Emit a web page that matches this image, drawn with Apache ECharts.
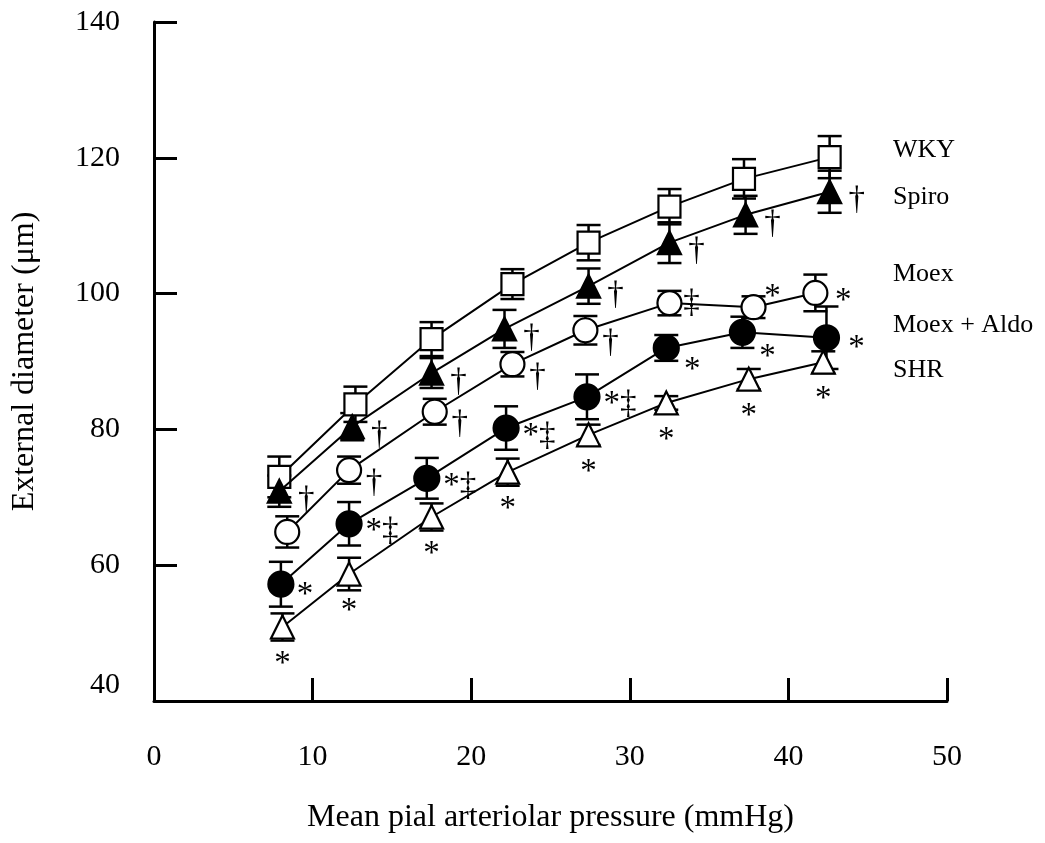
<!DOCTYPE html>
<html><head><meta charset="utf-8">
<script src="https://cdn.jsdelivr.net/npm/echarts@6/dist/echarts.min.js"></script>
<style>html,body{margin:0;padding:0;background:#fff}#c{width:1045px;height:843px}</style>
</head><body><div id="c"></div>
<script>
// ---- data ----
const xTicks = [0, 10, 20, 30, 40, 50];
const yTicks = [40, 60, 80, 100, 120, 140];
const seriesNames = ['WKY', 'Spiro', 'Moex', 'Moex + Aldo', 'SHR'];

const wkyX   = [7.9, 12.7, 17.5, 22.6, 27.4, 32.5, 37.2, 42.6];
const wkyY   = [73.0, 83.7, 93.3, 101.4, 107.5, 112.8, 116.9, 120.1];
const wkyErr = [3.0, 2.6, 2.5, 2.2, 2.6, 2.6, 2.9, 3.1];
const wkyMarks = ['', '', '', '', '', '', '', ''];

const spiroX   = [7.9, 12.5, 17.5, 22.1, 27.4, 32.5, 37.3, 42.6];
const spiroY   = [70.9, 80.4, 88.3, 94.8, 101.1, 107.5, 111.6, 115.0];
const spiroErr = [2.3, 2.0, 2.2, 2.8, 2.6, 3.0, 2.8, 3.1];
const spiroMarks = ['†', '†', '†', '†', '†', '†', '†', '†'];

const moexX   = [8.4, 12.3, 17.7, 22.6, 27.2, 32.5, 37.8, 41.7];
const moexY   = [64.9, 74.0, 82.6, 89.6, 94.6, 98.6, 98.0, 100.1];
const moexErr = [2.3, 2.0, 1.9, 1.8, 2.1, 1.8, 1.6, 2.7];
const moexMarks = ['', '†', '†', '†', '†', '‡', '*', '*'];

const aldoX   = [8.0, 12.3, 17.2, 22.2, 27.3, 32.3, 37.1, 42.4];
const aldoY   = [57.2, 66.1, 72.8, 80.2, 84.8, 92.0, 94.3, 93.5];
const aldoErr = [3.3, 3.2, 3.0, 3.2, 3.3, 1.9, 2.3, 4.6];
const aldoMarks = ['*', '*‡', '*‡', '*‡', '*‡', '*', '*', '*'];

const shrX   = [8.1, 12.3, 17.5, 22.3, 27.4, 32.3, 37.5, 42.2];
const shrY   = [50.9, 58.7, 67.1, 73.7, 79.2, 83.9, 87.4, 89.9];
const shrErr = [2.0, 2.4, 2.0, 2.0, 1.5, 1.0, 1.5, 1.6];
const shrMarks = ['*', '*', '*', '*', '*', '*', '*', '*'];

// ---- styling / layout ----
const FONT = '"Liberation Serif", "Times New Roman", serif';
const groups = [
  { name: seriesNames[0], x: wkyX, y: wkyY, e: wkyErr, m: wkyMarks, symbol: 'rect', size: 22, fill: '#fff', off: [0, 0], over: {} },
  { name: seriesNames[1], x: spiroX, y: spiroY, e: spiroErr, m: spiroMarks, symbol: 'triangle', size: 23, fill: '#000', off: [27, 9], over: {} },
  { name: seriesNames[2], x: moexX, y: moexY, e: moexErr, m: moexMarks, symbol: 'circle', size: 24, fill: '#fff', off: [25, 13], over: { 5: [22, 0], 6: [19, -10], 7: [28, 8] } },
  { name: seriesNames[3], x: aldoX, y: aldoY, e: aldoErr, m: aldoMarks, symbol: 'circle', size: 25, fill: '#000', off: [33, 8], over: { 0: [24, 11], 5: [26, 22], 6: [25, 25], 7: [30, 11] } },
  { name: seriesNames[4], x: shrX, y: shrY, e: shrErr, m: shrMarks, symbol: 'triangle', size: 23, fill: '#fff', off: [0, 37], over: {} }
];
const legendTops = [148, 195, 272, 323, 368];

function errRender(params, api) {
  const x = api.value(0), y = api.value(1), e = api.value(2);
  const t = api.coord([x, y + e]), b = api.coord([x, y - e]);
  const hw = 12;
  const st = { stroke: '#000', lineWidth: 2.5, fill: null };
  return { type: 'group', children: [
    { type: 'line', shape: { x1: t[0], y1: t[1], x2: b[0], y2: b[1] }, style: st },
    { type: 'line', shape: { x1: t[0] - hw, y1: t[1], x2: t[0] + hw, y2: t[1] }, style: st },
    { type: 'line', shape: { x1: b[0] - hw, y1: b[1], x2: b[0] + hw, y2: b[1] }, style: st }
  ]};
}

const series = [];
groups.forEach((g) => {
  series.push({
    name: g.name + ' SE', type: 'custom', renderItem: errRender, z: 2,
    encode: { x: 0, y: 1 }, silent: true,
    data: g.x.map((v, i) => [v, g.y[i], g.e[i]])
  });
});
groups.forEach((g, gi) => {
  series.push({
    name: g.name, type: 'line', z: 3 + gi,
    symbol: g.symbol, symbolSize: g.size, showAllSymbol: true,
    lineStyle: { color: '#000', width: 2 },
    itemStyle: { color: g.fill, borderColor: '#000', borderWidth: 2.2 },
    emphasis: { disabled: true },
    data: g.x.map((v, i) => ({
      value: [v, g.y[i]],
      label: {
        show: g.m[i] !== '',
        formatter: g.m[i],
        position: 'inside',
        offset: g.over[i] || g.off,
        color: '#000', fontFamily: FONT, fontSize: 33
      }
    }))
  });
});

const legends = seriesNames.map((n, i) => ({
  data: [n], orient: 'vertical', left: 883, top: legendTops[i] - 16,
  icon: 'none', itemWidth: 0, itemHeight: 0, selectedMode: false,
  textStyle: { fontFamily: FONT, fontSize: 26, color: '#000' }
}));

const chart = echarts.init(document.getElementById('c'), null, { renderer: 'canvas' });
chart.setOption({
  animation: false,
  backgroundColor: '#fff',
  grid: { left: 154, right: 98, top: 22, bottom: 142 },
  legend: legends,
  xAxis: {
    type: 'value', min: xTicks[0], max: xTicks[xTicks.length - 1], interval: 10,
    name: 'Mean pial arteriolar pressure (mmHg)', nameLocation: 'middle', nameGap: 101,
    nameTextStyle: { fontFamily: FONT, fontSize: 32, color: '#000' },
    axisLine: { lineStyle: { color: '#000', width: 3 } },
    axisTick: { inside: true, length: 23, lineStyle: { color: '#000', width: 3 } },
    axisLabel: { fontFamily: FONT, fontSize: 30, color: '#000', margin: 41 },
    splitLine: { show: false }
  },
  yAxis: {
    type: 'value', min: yTicks[0], max: yTicks[yTicks.length - 1], interval: 20,
    name: 'External diameter (μm)', nameLocation: 'middle', nameGap: 113,
    nameTextStyle: { fontFamily: FONT, fontSize: 32, color: '#000' },
    axisLine: { lineStyle: { color: '#000', width: 3 } },
    axisTick: { inside: true, length: 23, lineStyle: { color: '#000', width: 3 } },
    axisLabel: {
      fontFamily: FONT, fontSize: 30, color: '#000', margin: 34,
      formatter: v => v === yTicks[0] ? '{lo|' + v + '}' : String(v),
      rich: { lo: { fontFamily: FONT, fontSize: 30, color: '#000', padding: [0, 0, 32, 0] } }
    },
    splitLine: { show: false }
  },
  series: series
});
</script></body></html>
